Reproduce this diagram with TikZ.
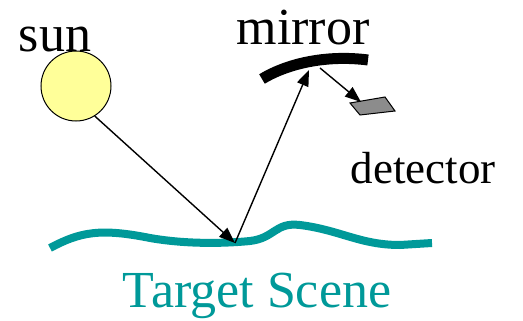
\documentclass[tikz,border=0pt]{standalone}
\usepackage{fontspec}
\setmainfont{Liberation Serif}
\usetikzlibrary{arrows.meta}
\definecolor{scene}{HTML}{009999}
\definecolor{sunfill}{HTML}{FFFF99}
\begin{document}
\begin{tikzpicture}[
        x=1pt, y=-1pt,
        lbl/.style={inner sep=0pt, anchor=base, font=\fontsize{52}{54}\selectfont},
        ray/.style={draw, line width=1.4pt, -{Triangle[length=16pt, width=12pt]}}
    ]
    \useasboundingbox (0,0) rectangle (523,321);
    % sun and labels
    \node[circle, draw, line width=1pt, fill=sunfill, minimum size=70pt, inner sep=0pt] (sun) at (76,86) {};
    \node[lbl] (sunlbl) at (55,52) {sun};
    \node[lbl] (mirrorlbl) at (303,45) {mirror};
    \node[lbl, font=\fontsize{45}{47}\selectfont] (detectorlbl) at (423,183) {detector};
    \node[lbl, text=scene] (scenelbl) at (257,307) {Target Scene};
    % ground
    \draw[scene, line width=8pt]
        (50,248) .. controls (80,232) and (100,228) .. (150,238)
        .. controls (190,245) and (230,243) .. (250,241)
        .. controls (275,238) and (275,222) .. (300,225)
        .. controls (340,230) and (360,245) .. (400,245)
        -- (432,243);
    % mirror
    \draw[line width=11pt] (262,79) .. controls (290,62) and (330,55) .. (368,60);
    % detector
    \draw[fill=gray!90, line width=1pt] (350,103) -- (385,97) -- (395,111) -- (360,115) -- cycle;
    % rays
    \coordinate (hit) at (235,243);
    \coordinate (refl) at (309,70);
    \coordinate (out) at (320,68);
    \coordinate (sens) at (361,102);
    \draw[ray] (sun.-58) -- (hit);
    \draw[ray] (hit) -- (refl);
    \draw[ray] (out) -- (sens);
\end{tikzpicture}
\end{document}
